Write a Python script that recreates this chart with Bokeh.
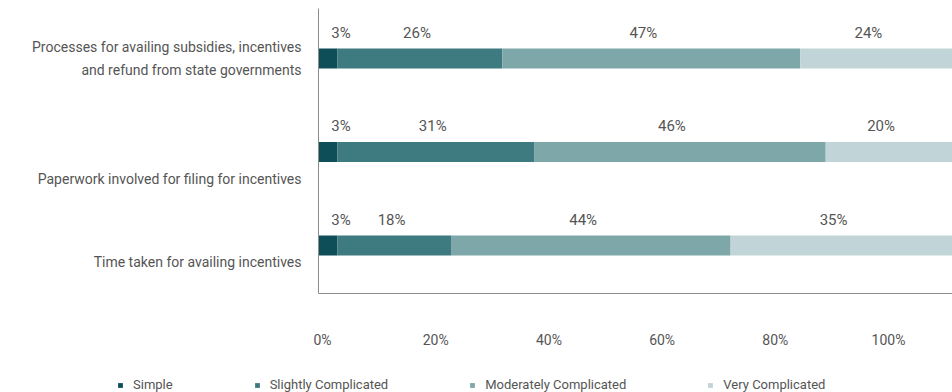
from bokeh.plotting import figure
from bokeh.layouts import column
from bokeh.models import (Range1d, LinearAxis, FixedTicker, Legend, LegendItem,
                          ColumnDataSource)
from bokeh.core.properties import value
from bokeh.embed import file_html
from bokeh.resources import INLINE

# ---------------- data ----------------
categories = [
    "Processes for availing subsidies, incentives\nand refund from state governments",
    "Paperwork involved for filing for incentives",
    "Time taken for availing incentives",
]
series_names = ["Simple", "Slightly Complicated", "Moderately Complicated", "Very Complicated"]
simple = [3, 3, 3]
slightly_complicated = [26, 31, 18]
moderately_complicated = [47, 46, 44]
very_complicated = [24, 20, 35]
tick_values = [0, 20, 40, 60, 80, 100]
tick_labels = ["0%", "20%", "40%", "60%", "80%", "100%"]

# ---------------- style ----------------
colors = ["#0e4e59", "#3e7b81", "#7ea7a9", "#c1d5d8"]
FONT = "Roboto"
TEXT_COLOR = "#555555"
AXIS_COLOR = "#8c8c8c"
label_dx = [13, -3, -8, -8]          # px nudges of value labels per series
cat_label_dy = [0, 27, 16]           # px shift (down) of category labels

W, H_MAIN, H_LEG = 952, 374, 18
BORDER_TOP, BORDER_BOTTOM, BORDER_LEFT = 8, 81, 318
Y_START, Y_END = 0.487, 3.535
frame_h = H_MAIN - BORDER_TOP - BORDER_BOTTOM
px_per_unit = frame_h / (Y_END - Y_START)

series = [simple, slightly_complicated, moderately_complicated, very_complicated]
n = len(categories)
rows = [n - i for i in range(n)]     # top row first

p = figure(width=W, height=H_MAIN, output_backend="svg", toolbar_location=None,
           x_range=Range1d(0, 100), y_range=Range1d(Y_START, Y_END),
           x_axis_location=None, y_axis_location=None,
           min_border_left=BORDER_LEFT, min_border_right=0, min_border_top=BORDER_TOP,
           min_border_bottom=BORDER_BOTTOM, outline_line_color=None,
           background_fill_color="white", border_fill_color="white")
p.frame_align = False
p.xgrid.visible = False
p.ygrid.visible = False

sources = []
lbl_x, lbl_y, lbl_t, lbl_dx = [], [], [], []
left = [0.0] * n
for s, vals in enumerate(series):
    right = [l + v for l, v in zip(left, vals)]
    src = ColumnDataSource(dict(y=rows, left=left, right=right))
    sources.append(src)
    p.hbar(y="y", left="left", right="right", height=0.214, source=src,
           fill_color=colors[s], line_color=None)
    for i in range(n):
        lbl_x.append((left[i] + right[i]) / 2)
        lbl_y.append(rows[i])
        lbl_t.append(f"{vals[i]}%")
        lbl_dx.append(label_dx[s])
    left = right

lsrc = ColumnDataSource(dict(x=lbl_x, y=lbl_y, t=lbl_t, dx=lbl_dx))
p.text(x="x", y="y", text="t", x_offset="dx", y_offset=-26, source=lsrc,
       text_align="center", text_baseline="middle", text_font=value(FONT),
       text_font_size="15px", text_color=TEXT_COLOR)

# x axis (tick labels on their own scale, as in the reference)
p.extra_x_ranges = {"ticks": Range1d(-0.707, 111.3)}
xaxis = LinearAxis(x_range_name="ticks", ticker=FixedTicker(ticks=tick_values),
                   major_label_overrides={v: t for v, t in zip(tick_values, tick_labels)},
                   major_tick_in=0, major_tick_out=0, minor_tick_in=0, minor_tick_out=0,
                   major_tick_line_color=None, minor_tick_line_color=None,
                   axis_line_color=AXIS_COLOR, major_label_standoff=38,
                   major_label_text_font=FONT, major_label_text_font_size="14px",
                   major_label_text_color=TEXT_COLOR)
p.add_layout(xaxis, "below")

# y axis carries the category labels
cat_ticks = [rows[i] - cat_label_dy[i] / px_per_unit for i in range(n)]
yaxis = LinearAxis(ticker=FixedTicker(ticks=cat_ticks),
                   major_label_overrides={t: c for t, c in zip(cat_ticks, categories)},
                   major_tick_in=0, major_tick_out=0,
                   minor_tick_in=0, minor_tick_out=0, major_tick_line_color=None,
                   minor_tick_line_color=None, axis_line_color=AXIS_COLOR,
                   major_label_standoff=17, major_label_orientation="horizontal",
                   major_label_text_font=FONT, major_label_text_font_size="14px",
                   major_label_text_color=TEXT_COLOR, major_label_text_line_height=1.45)
p.add_layout(yaxis, "left")

# legend on its own strip below the chart
q = figure(width=W, height=H_LEG, output_backend="svg", toolbar_location=None,
           x_range=Range1d(0, 100), y_range=Range1d(1000, 1001),
           x_axis_location=None, y_axis_location=None,
           min_border=0, outline_line_color=None,
           background_fill_color="white", border_fill_color="white")
q.frame_align = False
q.xgrid.visible = False
q.ygrid.visible = False
leg_renderers = [q.hbar(y="y", left="left", right="right", height=0.214, source=src,
                        fill_color=colors[s], line_color=None)
                 for s, src in enumerate(sources)]
legend = Legend(items=[LegendItem(label=nm, renderers=[r]) for nm, r in zip(series_names, leg_renderers)],
                orientation="horizontal", location=(117, 0),
                glyph_width=6, glyph_height=6, label_standoff=10, spacing=81,
                padding=0, margin=0, label_height=6,
                border_line_color=None, background_fill_alpha=0,
                label_text_font=FONT, label_text_font_size="13px",
                label_text_color=TEXT_COLOR)
q.add_layout(legend, "center")

layout = column(p, q, spacing=0)
open("out.html", "w").write(file_html(layout, INLINE))
